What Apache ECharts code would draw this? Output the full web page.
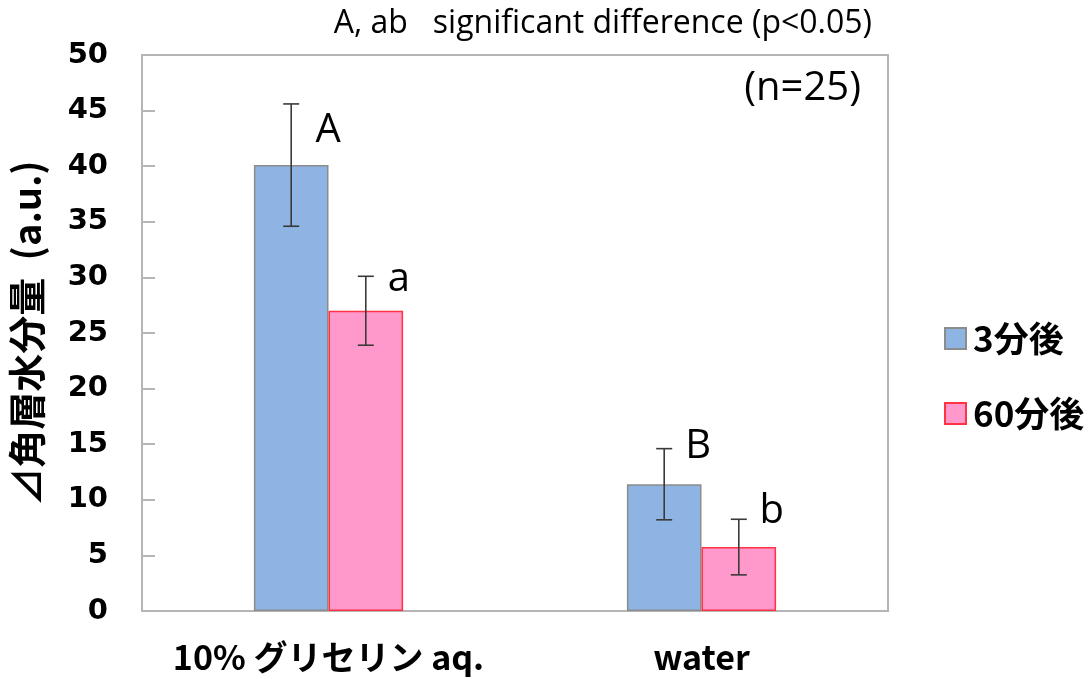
<!DOCTYPE html>
<html>
<head>
<meta charset="utf-8">
<script src="https://cdn.jsdelivr.net/npm/echarts@6/dist/echarts.min.js"></script>
<style>html,body{margin:0;padding:0;background:#fff;}#c{width:1090px;height:679px;}</style>
</head>
<body>
<div id="c"></div>
<script>
// ---- data ----
var categories = ['10% グリセリン aq.', 'water'];
var seriesNames = ['3分後', '60分後'];
var values3 = [40.1, 11.4];
var values60 = [27.0, 5.75];
var err3 = [5.5, 3.2];
var err60 = [3.1, 2.5];
var letters3 = ['A', 'B'];
var letters60 = ['a', 'b'];
var yTicks = [0, 5, 10, 15, 20, 25, 30, 35, 40, 45, 50];
var yAxisTitle = '⊿角層水分量  (a.u.)';
var noteTop = 'A, ab   significant difference (p<0.05)';
var noteN = '(n=25)';

// ---- layout / style (not data) ----
var letterOffsets3 = [[37, 27], [34, -2]];
var letterOffsets60 = [[33, 3], [33, -8]];
var BAR_FRAC = 0.2;

var chart = echarts.init(document.getElementById('c'), null, {renderer: 'canvas'});

function errRender(values, errs, letters, offsets, sign) {
  return function (params, api) {
    var i = api.value(0);
    var v = values[i], e = errs[i];
    var bw = api.size([1, 0])[0] * BAR_FRAC;
    var top = api.coord([i, v + e]);
    var bot = api.coord([i, v - e]);
    var x = top[0] + sign * bw / 2;
    var cap = 8;
    var st = {stroke: '#3a3a3a', lineWidth: 1.6};
    return {
      type: 'group',
      children: [
        {type: 'line', shape: {x1: x, y1: top[1], x2: x, y2: bot[1]}, style: st},
        {type: 'line', shape: {x1: x - cap, y1: top[1], x2: x + cap, y2: top[1]}, style: st},
        {type: 'line', shape: {x1: x - cap, y1: bot[1], x2: x + cap, y2: bot[1]}, style: st},
        {type: 'text', x: x + offsets[i][0], y: top[1] + offsets[i][1],
          style: {text: letters[i], fill: '#000', font: '40px "Open Sans"', align: 'center', verticalAlign: 'middle'}}
      ]
    };
  };
}

var option = {
  backgroundColor: '#fff',
  animation: false,
  title: [
    {text: noteTop, right: 213, top: 3, textStyle: {fontFamily: 'Open Sans', fontWeight: 'normal', fontSize: 32, color: '#000'}},
    {text: noteN, right: 224, top: 64, textStyle: {fontFamily: 'Open Sans', fontWeight: 'normal', fontSize: 40, color: '#000'}}
  ],
  legend: {
    orient: 'vertical', left: 939, top: 316,
    itemWidth: 21, itemHeight: 21, itemGap: 40,
    icon: 'rect',
    data: seriesNames,
    textStyle: {fontFamily: 'Noto Sans CJK JP', fontWeight: 'bold', fontSize: 35, color: '#000', padding: [0, 0, 0, 2]}
  },
  grid: {left: 142, right: 202, top: 55, bottom: 68, show: true, borderColor: '#b5b5b5', borderWidth: 2, backgroundColor: '#fff'},
  xAxis: {
    type: 'category', data: categories,
    axisLine: {lineStyle: {color: '#b5b5b5', width: 2}},
    axisTick: {show: false},
    axisLabel: {interval: 0, fontFamily: 'Noto Sans CJK JP', fontWeight: 'bold', fontSize: 34, color: '#000', margin: 29}
  },
  yAxis: {
    type: 'value', min: 0, max: 50, interval: 5,
    name: yAxisTitle, nameLocation: 'middle', nameGap: 96, nameRotate: 90,
    nameTextStyle: {fontFamily: 'Noto Sans CJK JP', fontWeight: 'bold', fontSize: 38, color: '#000'},
    axisLine: {show: true, lineStyle: {color: '#b5b5b5', width: 2}},
    axisTick: {show: true, inside: true, length: 13, lineStyle: {color: '#b5b5b5', width: 2}},
    splitLine: {show: false},
    axisLabel: {fontFamily: 'DejaVu Sans', fontWeight: 'bold', fontSize: 29, color: '#000', margin: 34,
      formatter: function (v) { return yTicks.indexOf(v) >= 0 ? String(v) : ''; }}
  },
  series: [
    {name: seriesNames[0], type: 'bar', data: values3, barGap: '0%', barCategoryGap: '60%',
      itemStyle: {color: '#8EB4E3', borderColor: '#8c8c8c', borderWidth: 1.5}},
    {name: seriesNames[1], type: 'bar', data: values60, barGap: '0%', barCategoryGap: '60%',
      itemStyle: {color: '#FF99CC', borderColor: '#FF3344', borderWidth: 1.5}},
    {type: 'custom', data: categories.map(function (c, i) { return [i]; }), z: 10,
      renderItem: errRender(values3, err3, letters3, letterOffsets3, -1), silent: true},
    {type: 'custom', data: categories.map(function (c, i) { return [i]; }), z: 10,
      renderItem: errRender(values60, err60, letters60, letterOffsets60, 1), silent: true}
  ]
};
chart.setOption(option);
</script>
</body>
</html>
